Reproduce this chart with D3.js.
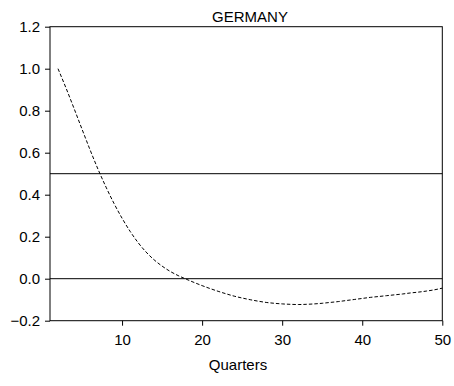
<!DOCTYPE html>
<html>
<head>
<meta charset="utf-8">
<script src="https://cdn.jsdelivr.net/npm/d3@7"></script>
<style>
  html, body { margin: 0; padding: 0; background: #fff; }
  svg { display: block; font-family: "Liberation Sans", Arial, sans-serif; }
</style>
</head>
<body>
<svg id="chart" width="454" height="386"></svg>
<script>
const title = "GERMANY";
const xLabel = "Quarters";
const quarters = d3.range(2, 51);
const response = [
  1.000, 0.908, 0.811, 0.712, 0.614, 0.521,
  0.436, 0.358, 0.288, 0.226, 0.172,
  0.127, 0.090, 0.060, 0.035, 0.015,
  -0.002, -0.018, -0.033, -0.047, -0.060,
  -0.072, -0.083, -0.092, -0.100, -0.107,
  -0.113, -0.117, -0.120, -0.122, -0.123,
  -0.122, -0.120, -0.117, -0.113, -0.109,
  -0.104, -0.099, -0.094, -0.089, -0.085,
  -0.081, -0.077, -0.073, -0.068, -0.064,
  -0.059, -0.053, -0.045
];
const refLines = [0.5, 0.0];
const xTicks = [10, 20, 30, 40, 50];
const yTicks = [-0.2, 0.0, 0.2, 0.4, 0.6, 0.8, 1.0, 1.2];

const svg = d3.select("#chart");
const L = 50, R = 442.3, T = 26.7, B = 320.7;
const x = d3.scaleLinear().domain([1, 50]).range([L, R]);
const y = d3.scaleLinear().domain([-0.2, 1.2]).range([B, T]);

// reference lines
svg.selectAll("line.ref").data(refLines).enter().append("line")
  .attr("class", "ref")
  .attr("x1", L).attr("x2", R)
  .attr("y1", d => y(d)).attr("y2", d => y(d))
  .attr("stroke", "#000").attr("stroke-width", 1);

// curve
const data = quarters.map((q, i) => ({q, v: response[i]}));
svg.append("path").datum(data)
  .attr("fill", "none")
  .attr("stroke", "#000")
  .attr("stroke-width", 1)
  .attr("stroke-dasharray", "3.5,2")
  .attr("d", d3.line().curve(d3.curveMonotoneX).x(d => x(d.q)).y(d => y(d.v)));

// frame
svg.append("rect")
  .attr("x", L).attr("y", T).attr("width", R - L).attr("height", B - T)
  .attr("fill", "none").attr("stroke", "#000").attr("stroke-width", 1);

// axes
const xAxis = svg.append("g").attr("transform", `translate(0,${B})`)
  .call(d3.axisBottom(x).tickValues(xTicks).tickSize(5).tickSizeOuter(0).tickPadding(9).tickFormat(d3.format("d")));
const yAxis = svg.append("g").attr("transform", `translate(${L},0)`)
  .call(d3.axisLeft(y).tickValues(yTicks).tickSize(5).tickSizeOuter(0).tickPadding(5).tickFormat(d3.format(".1f")));
[xAxis, yAxis].forEach(g => {
  g.select(".domain").remove();
  g.selectAll("line").attr("stroke", "#000");
  g.selectAll("text").attr("fill", "#000")
    .style("font-family", "'Liberation Sans', Arial, sans-serif")
    .style("font-size", "15px");
});

svg.append("text").attr("x", 250).attr("y", 21.5)
  .attr("text-anchor", "middle").style("font-size", "15px").text(title);
svg.append("text").attr("x", 238).attr("y", 370)
  .attr("text-anchor", "middle").style("font-size", "15px").text(xLabel);
</script>
</body>
</html>
